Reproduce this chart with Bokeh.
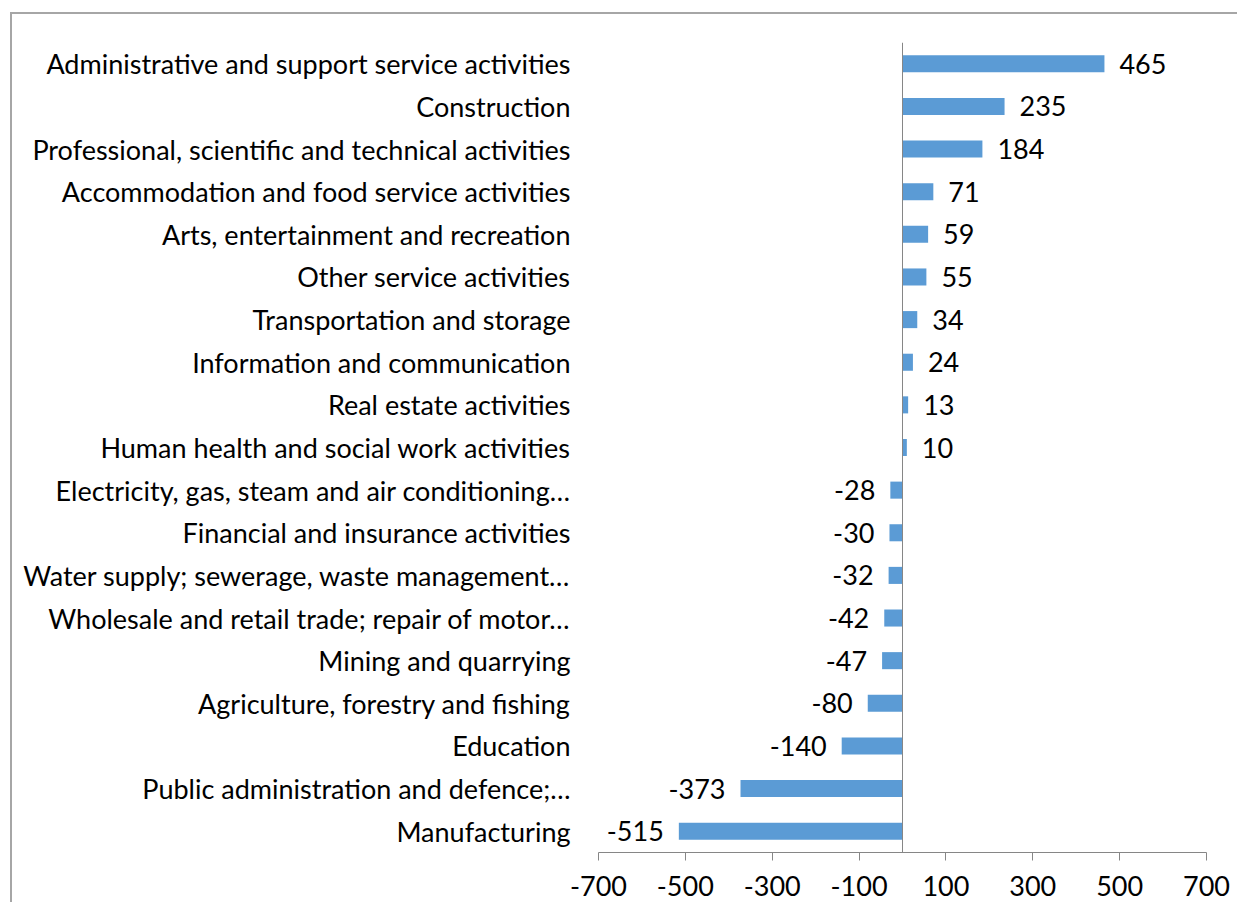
from bokeh.plotting import figure
from bokeh.layouts import column
from bokeh.models import ColumnDataSource, FactorRange, Range1d, FixedTicker, Span, LabelSet
from bokeh.core.properties import value
from bokeh.embed import file_html
from bokeh.resources import INLINE

categories = [
    "Administrative and support service activities",
    "Construction",
    "Professional, scientific and technical activities",
    "Accommodation and food service activities",
    "Arts, entertainment and recreation",
    "Other service activities",
    "Transportation and storage",
    "Information and communication",
    "Real estate activities",
    "Human health and social work activities",
    "Electricity, gas, steam and air conditioning…",
    "Financial and insurance activities",
    "Water supply; sewerage, waste management…",
    "Wholesale and retail trade; repair of motor…",
    "Mining and quarrying",
    "Agriculture, forestry and fishing",
    "Education",
    "Public administration and defence;…",
    "Manufacturing",
]
values = [465, 235, 184, 71, 59, 55, 34, 24, 13, 10, -28, -30, -32, -42, -47, -80, -140, -373, -515]
x_ticks = [-700, -500, -300, -100, 100, 300, 500, 700]
x_tick_labels = ["-700", "-500", "-300", "-100", "100", "300", "500", "700"]

FONT = "Lato"
FS = "27px"
BAR = "#5B9BD5"
AXIS = "#868686"

src = ColumnDataSource(dict(cat=categories, val=values))
pos = ColumnDataSource(dict(cat=[c for c, v in zip(categories, values) if v >= 0],
                            val=[v for v in values if v >= 0],
                            txt=[str(v) for v in values if v >= 0]))
neg = ColumnDataSource(dict(cat=[c for c, v in zip(categories, values) if v < 0],
                            val=[v for v in values if v < 0],
                            txt=[str(v) for v in values if v < 0]))

p = figure(width=1227, height=890, output_backend="svg", toolbar_location=None,
           y_range=FactorRange(factors=list(reversed(categories))),
           x_range=Range1d(-700, 700),
           min_border_left=586, min_border_right=33, min_border_top=28, min_border_bottom=52)
p.styles = {"border-left": "2px solid #a6a6a6", "border-top": "2px solid #a6a6a6"}

p.hbar(y="cat", right="val", left=0, height=0.4, source=src, color=BAR, line_color=None)

p.add_layout(Span(location=0, dimension="height", line_color=AXIS, line_width=1))

common = dict(y="cat", text="txt", text_font=value(FONT), text_font_size=FS,
              text_color="black", text_baseline="middle")
p.add_layout(LabelSet(x="val", source=pos, x_offset=15, text_align="left", **common))
p.add_layout(LabelSet(x="val", source=neg, x_offset=-15, text_align="right", **common))

p.xgrid.visible = False
p.ygrid.visible = False
p.outline_line_color = None

xa = p.xaxis[0]
xa.ticker = FixedTicker(ticks=x_ticks)
xa.major_label_overrides = {t: s for t, s in zip(x_ticks, x_tick_labels)}
xa.axis_line_color = AXIS
xa.major_tick_line_color = AXIS
xa.major_tick_out = 8
xa.major_tick_in = 0
xa.minor_tick_line_color = None
xa.major_label_text_font = FONT
xa.major_label_text_font_size = FS
xa.major_label_text_color = "black"
xa.major_label_standoff = 15

ya = p.yaxis[0]
ya.axis_line_color = None
ya.major_tick_line_color = None
ya.minor_tick_line_color = None
ya.major_tick_out = 0
ya.major_tick_in = 0
ya.major_label_text_font = FONT
ya.major_label_text_font_size = FS
ya.major_label_text_color = "black"
ya.major_label_standoff = 28

root = column(p, styles={"padding-left": "10px", "padding-top": "12px"})

open("out.html", "w").write(file_html(root, INLINE))
